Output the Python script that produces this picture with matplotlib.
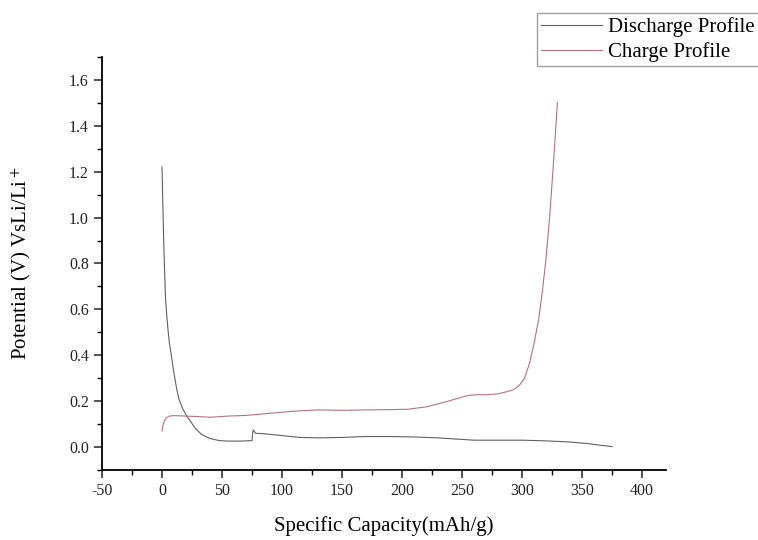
import matplotlib
matplotlib.use('Agg')
import matplotlib.pyplot as plt
from matplotlib.ticker import MultipleLocator

plt.rcParams['font.family'] = ['Liberation Serif', 'DejaVu Serif']
plt.rcParams['mathtext.fontset'] = 'stix'
plt.rcParams['axes.unicode_minus'] = False

# discharge profile (capacity mAh/g, potential V)
dis_cap = [0, 0.5, 1, 1.5, 2, 2.5, 3, 4, 5, 6, 8, 10, 12, 14, 17, 20, 24, 28, 33, 40, 48, 55, 65, 75, 75.5, 76, 78, 85, 100, 115, 130, 150, 170, 190, 210, 230, 245, 260, 280, 300, 320, 340, 355, 365, 375]
dis_pot = [1.22, 1.1, 0.98, 0.88, 0.79, 0.71, 0.64, 0.57, 0.51, 0.46, 0.39, 0.32, 0.26, 0.21, 0.17, 0.14, 0.11, 0.08, 0.055, 0.037, 0.028, 0.026, 0.026, 0.028, 0.06, 0.075, 0.06, 0.058, 0.05, 0.042, 0.04, 0.042, 0.046, 0.046, 0.044, 0.04, 0.035, 0.03, 0.03, 0.03, 0.027, 0.022, 0.015, 0.008, 0.002]

# charge profile
chg_cap = [0, 1, 3, 6, 10, 20, 30, 40, 55, 70, 85, 100, 115, 130, 150, 170, 190, 205, 220, 235, 245, 255, 262, 270, 280, 288, 293, 298, 302, 306, 310, 314, 317, 320, 323, 326, 328, 329.5]
chg_pot = [0.07, 0.1, 0.125, 0.135, 0.137, 0.135, 0.133, 0.13, 0.135, 0.138, 0.145, 0.152, 0.158, 0.162, 0.16, 0.162, 0.163, 0.165, 0.175, 0.195, 0.21, 0.225, 0.228, 0.228, 0.232, 0.242, 0.25, 0.27, 0.3, 0.36, 0.45, 0.56, 0.68, 0.82, 1.0, 1.22, 1.38, 1.5]

fig = plt.figure(figsize=(7.58, 5.4), dpi=100)
ax = fig.add_axes([0.1346, 0.1296, 0.744, 0.765])

ax.plot(dis_cap, dis_pot, color='#606060', lw=0.8, label='Discharge Profile')
ax.plot(chg_cap, chg_pot, color='#b87080', lw=0.8, label='Charge Profile')

ax.set_xlim(-50, 420)
ax.set_ylim(-0.1, 1.7)
ax.xaxis.set_major_locator(MultipleLocator(50))
ax.xaxis.set_minor_locator(MultipleLocator(25))
ax.yaxis.set_minor_locator(MultipleLocator(0.1))
ax.set_yticks([0, 0.2, 0.4, 0.6, 0.8, 1.0, 1.2, 1.4, 1.6])
ax.yaxis.set_major_formatter(plt.FuncFormatter(lambda v, p: '%.1f' % v))

ax.spines['top'].set_visible(False)
ax.spines['right'].set_visible(False)
for s in ['left', 'bottom']:
    ax.spines[s].set_linewidth(1.3)
ax.tick_params(which='major', direction='out', length=6, width=1.1, labelsize=11.5, colors='#222222')
ax.tick_params(which='minor', direction='out', length=3.5, width=1.0)

ax.set_xlabel('Specific Capacity(mAh/g)', fontsize=15, labelpad=12)
ax.set_ylabel('Potential (V) VsLi/Li$^+$', fontsize=15, labelpad=26)

leg = fig.legend(loc='upper left', bbox_to_anchor=(0.695, 0.995), fontsize=15,
                 frameon=True, fancybox=False, handlelength=2.9, borderpad=0.2,
                 labelspacing=0.25, handletextpad=0.3)
leg.get_frame().set_edgecolor('#888888')
leg.get_frame().set_linewidth(1.0)

fig.savefig('out.png', dpi=100)
